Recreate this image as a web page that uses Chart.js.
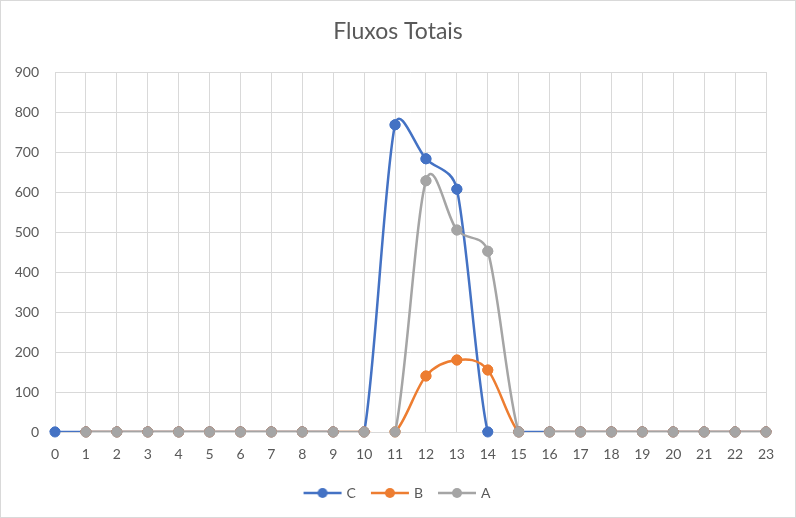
<!DOCTYPE html>
<html><head><meta charset="utf-8">
<script src="https://cdn.jsdelivr.net/npm/chart.js@4"></script>
<style>html,body{margin:0;padding:0;background:#fff}#wrap{width:796px;height:518px;position:relative}</style>
</head><body><div id="wrap"><canvas id="c" width="796" height="518"></canvas></div>
<script>
const hours = ['0','1','2','3','4','5','6','7','8','9','10','11','12','13','14','15','16','17','18','19','20','21','22','23'];
const seriesC = [0,0,0,0,0,0,0,0,0,0,0,768,683,607,0,0,0,0,0,0,0,0,0,0];
const seriesB = [null,0,0,0,0,0,0,0,0,0,0,0,140,180,155,0,0,0,0,0,0,0,0,0];
const seriesA = [null,0,0,0,0,0,0,0,0,0,0,0,628,505,452,0,0,0,0,0,0,0,0,0];
const yTicks = [0,100,200,300,400,500,600,700,800,900];

const FONT = 'Lato, "Open Sans", sans-serif';
function icon(color){
  const cv=document.createElement('canvas');cv.width=40;cv.height=12;
  const g=cv.getContext('2d');
  g.strokeStyle=color;g.lineWidth=2.5;g.beginPath();g.moveTo(1,6);g.lineTo(39,6);g.stroke();
  g.fillStyle=color;g.beginPath();g.arc(20,6,5,0,Math.PI*2);g.fill();
  return cv;
}
const border={id:'border',afterDraw(ch){const x=ch.ctx;x.save();x.strokeStyle='#d9d9d9';x.lineWidth=1;x.strokeRect(0.5,0.5,795,517);x.restore();}};
// Excel-like smoothing: recompute the bezier control points of the library's own point elements
const excelSmooth={id:'excelSmooth',beforeDatasetsDraw(chart){
  chart.getSortedVisibleDatasetMetas().forEach(meta=>{
    const line=meta.dataset, pts=meta.data, n=pts.length;
    line.updateControlPoints(chart.chartArea, meta.indexAxis);
    const ok=i=>i>=0&&i<n&&!pts[i].skip;
    for(let i=0;i<n-1;i++){
      if(!ok(i)||!ok(i+1))continue;
      const p1=pts[i],p2=pts[i+1],p0=ok(i-1)?pts[i-1]:p1,p3=ok(i+2)?pts[i+2]:p2;
      const d12=Math.hypot(p2.x-p1.x,p2.y-p1.y),d02=Math.hypot(p2.x-p0.x,p2.y-p0.y),d13=Math.hypot(p3.x-p1.x,p3.y-p1.y);
      const f1=d02>0?Math.min(1/6,d12/(2*d02)):0, f2=d13>0?Math.min(1/6,d12/(2*d13)):0;
      p1.cp2x=p1.x+f1*(p2.x-p0.x);p1.cp2y=p1.y+f1*(p2.y-p0.y);
      p2.cp1x=p2.x-f2*(p3.x-p1.x);p2.cp1y=p2.y-f2*(p3.y-p1.y);
    }
    line._path=undefined;
  });
},
// markers are not clipped by the plot area (lines are): redraw the library's point elements unclipped
afterDatasetsDraw(chart){
  const metas=chart.getSortedVisibleDatasetMetas().slice().reverse();
  const area={left:0,top:0,right:chart.width,bottom:chart.height};
  metas.forEach(meta=>meta.data.forEach(p=>{if(!p.skip)p.draw(chart.ctx,area);}));
}};
const mk=(label,data,color,order)=>({label,data,borderColor:color,backgroundColor:color,pointBackgroundColor:color,pointBorderColor:color,pointRadius:5,pointHoverRadius:5,pointBorderWidth:1,borderWidth:2.5,tension:0.4,order,spanGaps:false});
new Chart(document.getElementById('c'),{
  type:'line',
  data:{labels:hours,datasets:[mk('C',seriesC,'#4472C4',3),mk('B',seriesB,'#ED7D31',2),mk('A',seriesA,'#A5A5A5',1)]},
  options:{
    responsive:false,animation:false,
    layout:{padding:{left:0,right:0,top:0,bottom:8}},
    plugins:{
      title:{display:true,text:'Fluxos Totais',color:'#595959',font:{family:FONT,size:23,weight:'normal'},padding:{top:18,bottom:26.4}},
      legend:{position:'bottom',labels:{color:'#595959',font:{family:FONT,size:14},usePointStyle:true,pointStyleWidth:34,padding:17,
        generateLabels(ch){return ch.data.datasets.map((d,i)=>({text:d.label,fillStyle:d.borderColor,strokeStyle:d.borderColor,pointStyle:icon(d.borderColor),datasetIndex:i,hidden:false,lineWidth:0,fontColor:'#595959'}));}}},
      tooltip:{enabled:false}
    },
    scales:{
      x:{offset:false,grid:{color:'#d9d9d9',drawTicks:false},border:{color:'#d9d9d9'},
        ticks:{color:'#595959',font:{family:FONT,size:14},padding:14,maxRotation:0,autoSkip:false},
        afterFit(s){s.height=37;s.paddingRight=30;}},
      y:{min:0,max:900,afterBuildTicks(s){s.ticks=yTicks.map(v=>({value:v}));},
        grid:{color:'#d9d9d9',drawTicks:false},border:{display:false},
        ticks:{color:'#595959',font:{family:FONT,size:14},padding:16},
        afterFit(s){s.width=55;}}
    }
  },
  plugins:[border,excelSmooth]
});
</script></body></html>
